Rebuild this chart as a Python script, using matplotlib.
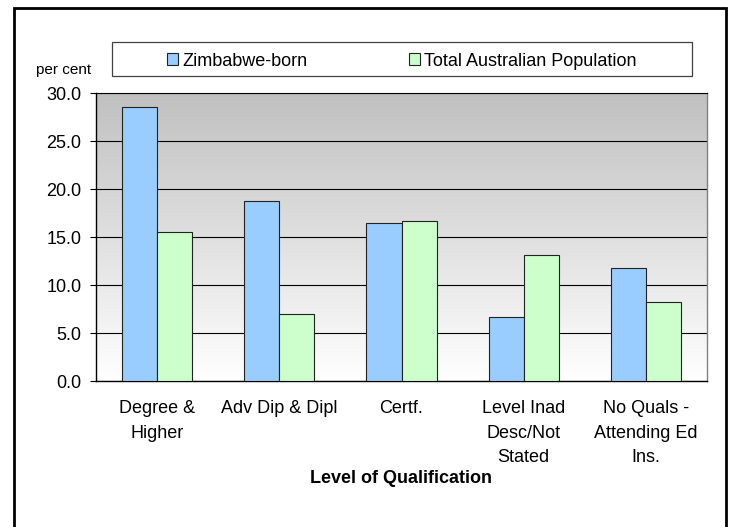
import numpy as np
import matplotlib
matplotlib.use("Agg")
import matplotlib.pyplot as plt
from matplotlib.patches import Rectangle

plt.rcParams['font.family'] = ['Liberation Sans', 'DejaVu Sans']

# data
categories = ['Degree &\nHigher', 'Adv Dip & Dipl', 'Certf.',
              'Level Inad\nDesc/Not\nStated', 'No Quals -\nAttending Ed\nIns.']
zimbabwe_born = [28.5, 18.7, 16.5, 6.7, 11.8]
total_aus = [15.5, 7.0, 16.7, 13.1, 8.2]
series_names = ['Zimbabwe-born', 'Total Australian Population']
yticks = [0, 5, 10, 15, 20, 25, 30]

W, H = 730, 527
fig = plt.figure(figsize=(W / 100, H / 100), dpi=100)

# plot area (pixel boxes from the reference)
left, right, top, bottom = 96, 707, 93, 381
ax = fig.add_axes([left / W, 1 - bottom / H, (right - left) / W, (bottom - top) / H])

# grey (top) to white (bottom) gradient background
grad = np.linspace(192, 255, 256)[:, None] / 255.0
grad = np.repeat(grad, 2, axis=1)
ax.imshow(np.dstack([grad, grad, grad]), extent=[-0.5, 4.5, 0, 30], origin='upper',
          aspect='auto', zorder=0, interpolation='bilinear')

x = np.arange(len(categories))
bw = 0.287
ax.bar(x - bw / 2, zimbabwe_born, bw, color='#99CCFF', edgecolor='#222222',
       linewidth=0.8, zorder=3, label=series_names[0])
ax.bar(x + bw / 2, total_aus, bw, color='#CCFFCC', edgecolor='#222222',
       linewidth=0.8, zorder=3, label=series_names[1])

ax.set_xlim(-0.5, 4.5)
ax.set_ylim(0, 30)
ax.set_yticks(yticks)
ax.set_yticklabels([f'{v:.1f}' for v in yticks])
ax.yaxis.grid(True, color='black', linewidth=0.8, zorder=1)
ax.set_axisbelow(True)
ax.tick_params(axis='y', length=4, width=0.8, pad=6.5, labelsize=13, direction='out')
ax.set_xticks(x)
ax.set_xticklabels(categories, fontsize=13, linespacing=1.55)
ax.tick_params(axis='x', length=0, pad=14)

for s in ['left', 'bottom']:
    ax.spines[s].set_color('black')
    ax.spines[s].set_linewidth(1.0)
ax.spines['top'].set_color('black')
ax.spines['top'].set_linewidth(0.8)
ax.spines['right'].set_color('#808080')
ax.spines['right'].set_linewidth(1.0)

ax.set_xlabel('Level of Qualification', fontsize=13, fontweight='bold', va='top')
ax.xaxis.set_label_coords(0.5, -0.31)

# "per cent" unit label
fig.text(36 / W, 1 - 74 / H, 'per cent', fontsize=11, va='baseline', ha='left')

# legend box
fig.add_artist(Rectangle((112 / W, 1 - 76 / H), (692 - 112) / W, (76 - 42) / H,
                         transform=fig.transFigure, fill=True, facecolor='white',
                         edgecolor='#404040', linewidth=0.9))
handles, labels = ax.get_legend_handles_labels()
fig.legend(handles, labels, loc='center', bbox_to_anchor=(402 / W, 1 - 61 / H),
           ncol=2, frameon=False, fontsize=13, handlelength=0.6, handleheight=0.6,
           handletextpad=0.25, columnspacing=5.6, borderpad=0)

# outer chart border (bottom edge falls off the image)
fig.add_artist(Rectangle((14 / W, -0.05), (726 - 14) / W, 1.05 - 8 / H,
                         transform=fig.transFigure, fill=False,
                         edgecolor='black', linewidth=2.0))

fig.savefig('out.png', dpi=100)
